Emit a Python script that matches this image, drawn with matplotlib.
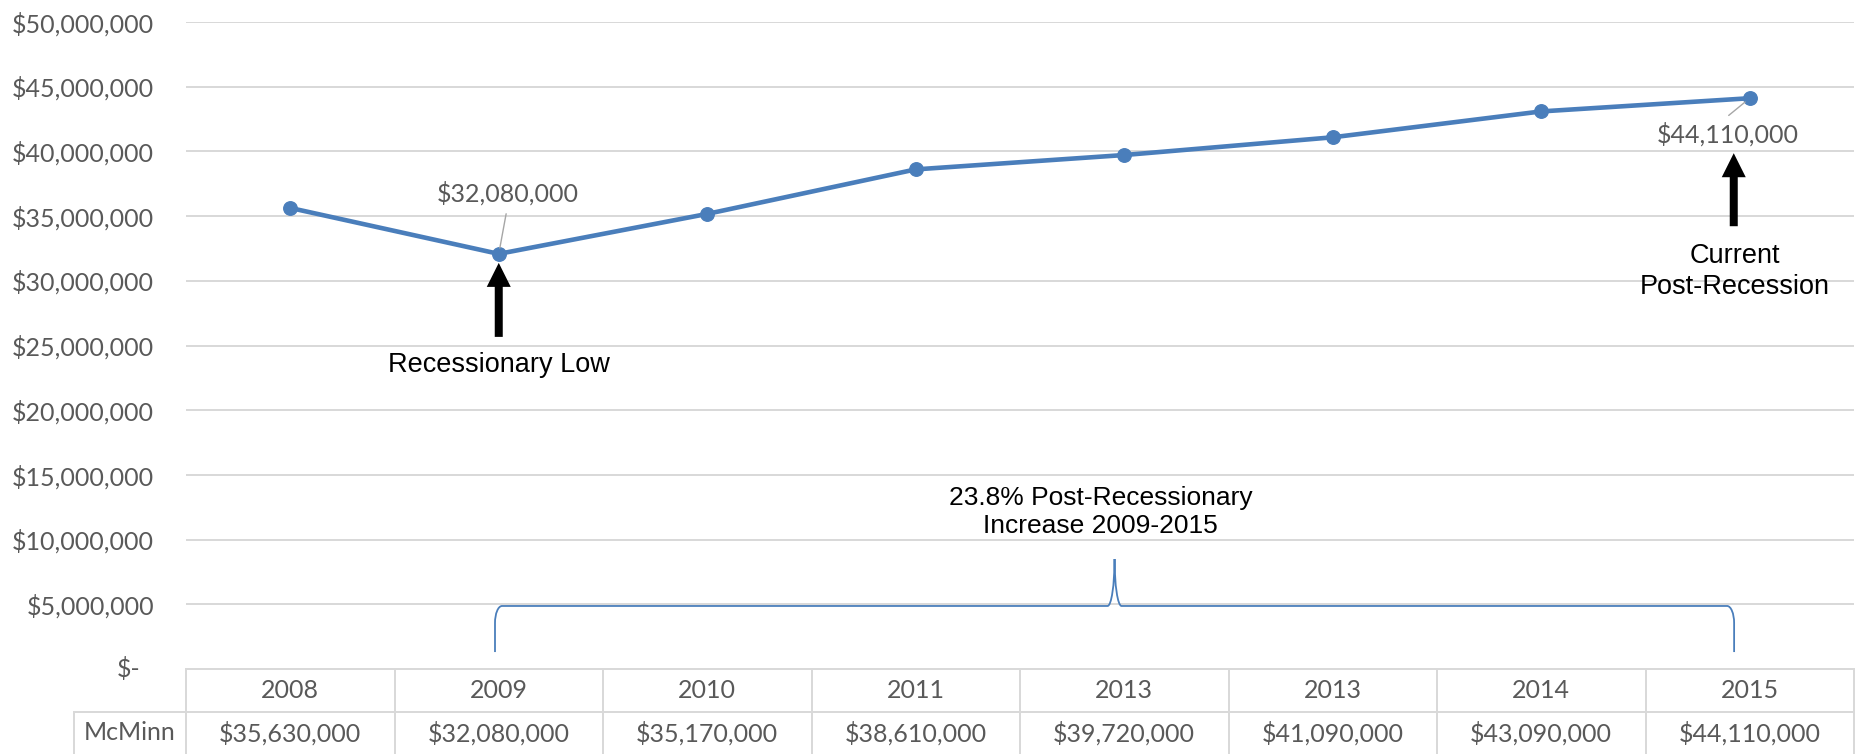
import matplotlib
matplotlib.use("Agg")
import matplotlib.pyplot as plt
import matplotlib.transforms as mtransforms
from matplotlib.patches import PathPatch
from matplotlib.path import Path
from matplotlib.ticker import FuncFormatter, MultipleLocator

# McMinn totals by year (the source table repeats "2013")
years = ["2008", "2009", "2010", "2011", "2013", "2013", "2014", "2015"]
mcminn = [35630000, 32080000, 35170000, 38610000, 39720000, 41090000, 43090000, 44110000]
series_name = "McMinn"

low_idx = 1        # recessionary low
current_idx = 7    # latest year
brace_text = "23.8% Post-Recessionary\nIncrease 2009-2015"

DPI = 100
BLUE = "#4A7EBB"
GRAY_TXT = "#595959"
GRID = "#D9D9D9"
LEADER = "#A6A6A6"
TICK_FONT = "Lato"
NOTE_FONT = "Liberation Sans"


def px(v):
    """pixels -> points at the figure dpi"""
    return v * 72.0 / DPI


def money(v):
    return f"${v:,.0f}"


fig = plt.figure(figsize=(18.6, 7.54), dpi=DPI)
ax = fig.add_axes([186 / 1860, 1 - 669 / 754, 1668 / 1860, 647 / 754])
ax_h_px = 647.0

x = list(range(len(years)))
ax.plot(x, mcminn, color=BLUE, lw=px(4.6), marker="o", ms=px(13.5),
        solid_joinstyle="round", zorder=3)

ax.set_xlim(-0.5, len(years) - 0.5)
ax.set_ylim(0, 50_000_000)
ax.yaxis.set_major_locator(MultipleLocator(5_000_000))
ax.yaxis.set_major_formatter(FuncFormatter(lambda v, _: money(v) if v else ""))
ax.tick_params(axis="y", length=0, pad=px(32), labelsize=18, labelcolor=GRAY_TXT)
for lab in ax.get_yticklabels():
    lab.set_family(TICK_FONT)
ax.set_xticks([])
ax.yaxis.grid(True, color=GRID, lw=px(2))
ax.set_axisbelow(True)
for s in ax.spines.values():
    s.set_visible(False)

# accounting-style zero label
ax.annotate("$-", xy=(0, 0), xycoords=mtransforms.blended_transform_factory(ax.transAxes, ax.transData),
            xytext=(-px(46), 0), textcoords="offset points", ha="right", va="center",
            fontsize=18, color=GRAY_TXT, family=TICK_FONT, annotation_clip=False)

# data labels with leader lines
ax.annotate(money(mcminn[low_idx]), xy=(low_idx, mcminn[low_idx]),
            xytext=(px(9), px(61)), textcoords="offset points",
            ha="center", va="center", fontsize=18, color=GRAY_TXT, family=TICK_FONT,
            arrowprops=dict(arrowstyle="-", color=LEADER, lw=1, relpos=(0.5, 0),
                            shrinkA=px(6), shrinkB=px(6)))
ax.annotate(money(mcminn[current_idx]), xy=(current_idx, mcminn[current_idx]),
            xytext=(-px(22), -px(36)), textcoords="offset points",
            ha="center", va="center", fontsize=18, color=GRAY_TXT, family=TICK_FONT,
            arrowprops=dict(arrowstyle="-", color=LEADER, lw=1, relpos=(0.45, 1),
                            shrinkA=px(6), shrinkB=px(6)))


def block_arrow(idx, dx, tip, tail):
    """black up-arrow below a point; offsets in pixels"""
    start = mtransforms.offset_copy(ax.transData, fig=fig, x=dx, y=-tip, units="dots")
    ax.annotate("", xy=(idx, mcminn[idx]), xycoords=start,
                xytext=(0, -(tail - tip)), textcoords="offset pixels",
                arrowprops=dict(arrowstyle=f"simple,head_length={px(24)},head_width={px(24)},tail_width={px(8)}",
                                mutation_scale=1, fc="black", ec="none", shrinkA=0, shrinkB=0),
                annotation_clip=False)


block_arrow(low_idx, 0, 9, 83)
block_arrow(current_idx, -16, 55, 128)

ax.annotate("Recessionary Low", xy=(low_idx, mcminn[low_idx]), xytext=(0, -px(111)),
            textcoords="offset points", ha="center", va="center",
            fontsize=19.5, family=NOTE_FONT, color="black")
ax.annotate("Current\nPost-Recession", xy=(current_idx, mcminn[current_idx]),
            xytext=(-px(15), -px(173)), textcoords="offset points", ha="center", va="center",
            multialignment="center", linespacing=1.27,
            fontsize=19.5, family=NOTE_FONT, color="black")

# curly brace spanning 2009-2015
bx0, bx1 = 0.982, 6.925
bmid = (bx0 + bx1) / 2
by_end, by_h, by_pk = 1.31e6, 4.87e6, 8.5e6
ddx = 7 / 208.5          # 7 px in data units
ry = 17 * 1e6 / 12.94    # 17 px in data units
k = 0.55
verts = [
    (bx0, by_end), (bx0, by_h - ry),
    (bx0, by_h - ry + k * ry), (bx0 + ddx - k * ddx, by_h), (bx0 + ddx, by_h),
    (bmid - ddx, by_h),
    (bmid - ddx + k * ddx, by_h), (bmid, by_pk - k * (by_pk - by_h)), (bmid, by_pk),
    (bmid, by_pk - k * (by_pk - by_h)), (bmid + ddx - k * ddx, by_h), (bmid + ddx, by_h),
    (bx1 - ddx, by_h),
    (bx1 - ddx + k * ddx, by_h), (bx1, by_h - ry + k * ry), (bx1, by_h - ry),
    (bx1, by_end),
]
codes = ([Path.MOVETO, Path.LINETO] + [Path.CURVE4] * 3 + [Path.LINETO]
         + [Path.CURVE4] * 6 + [Path.LINETO] + [Path.CURVE4] * 3 + [Path.LINETO])
ax.add_patch(PathPatch(Path(verts, codes), fill=False, ec=BLUE, lw=px(1.8), zorder=2))
ax.annotate(brace_text, xy=(bmid, by_pk), xytext=(-px(14), px(47)), textcoords="offset points",
            ha="center", va="center", multialignment="center", linespacing=1.22,
            fontsize=19, family=NOTE_FONT, color="black")

# data table under the plot
tbl = mtransforms.blended_transform_factory(ax.transData, ax.transAxes)
head_h = 43 / ax_h_px
row_h = 42 / ax_h_px
y_div = -head_h
y_bot = -(head_h + row_h + 5 / ax_h_px)
lbl_left = -1.037
line_kw = dict(color=GRID, lw=px(2), transform=tbl, clip_on=False)
ax.plot([-0.5, len(years) - 0.5], [0, 0], **line_kw)
ax.plot([lbl_left, len(years) - 0.5], [y_div, y_div], **line_kw)
for b in range(len(years) + 1):
    ax.plot([b - 0.5, b - 0.5], [0, y_bot], **line_kw)
ax.plot([lbl_left, lbl_left], [y_div, y_bot], **line_kw)

txt_kw = dict(transform=tbl, ha="center", va="center", fontsize=18,
              color=GRAY_TXT, family=TICK_FONT, clip_on=False)
for i, (yr, v) in enumerate(zip(years, mcminn)):
    ax.text(i, -21 / ax_h_px, yr, **txt_kw)
    ax.text(i, -64 / ax_h_px, money(v), **txt_kw)
ax.text((lbl_left - 0.5) / 2, -64 / ax_h_px, series_name, **txt_kw)

fig.savefig("out.png", dpi=DPI)
